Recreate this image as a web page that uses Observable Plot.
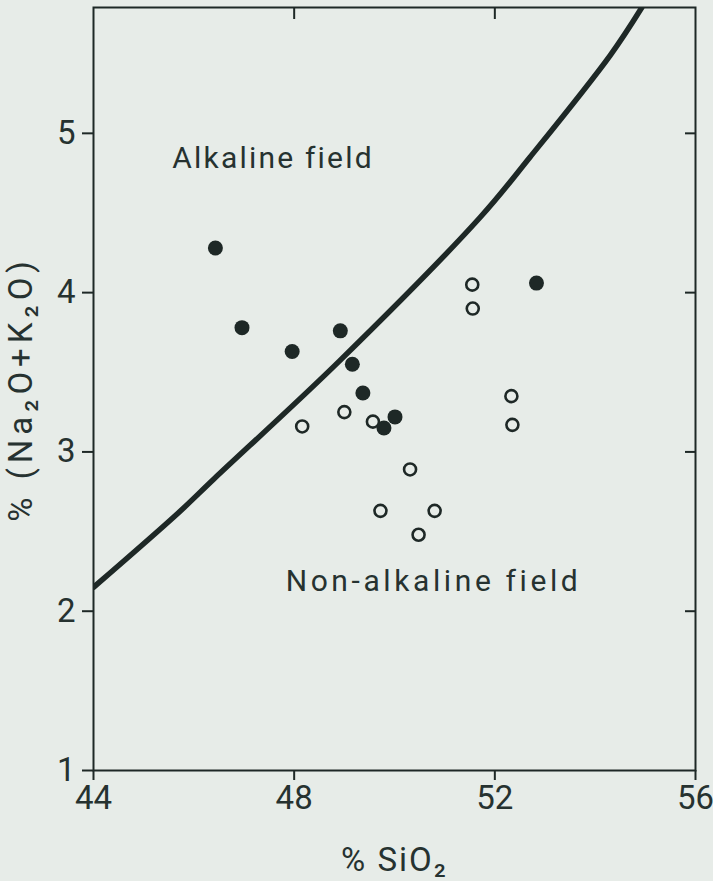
<!DOCTYPE html>
<html>
<head>
<meta charset="utf-8">
<script src="https://cdn.jsdelivr.net/npm/d3@7"></script>
<script src="https://cdn.jsdelivr.net/npm/@observablehq/plot@0.6"></script>
<style>
  html, body { margin: 0; padding: 0; background: #e7ece8; }
  #chart svg { display: block; }
</style>
</head>
<body>
<div id="chart"></div>
<script>
// Alkaline (filled) samples: SiO2 %, Na2O+K2O %
const alkSiO2 = [46.43, 46.96, 47.96, 48.92, 49.16, 49.37, 50.01, 49.79, 52.83];
const alkAlk  = [4.28, 3.78, 3.63, 3.76, 3.55, 3.37, 3.22, 3.15, 4.06];
// Non-alkaline (open) samples
const nonSiO2 = [51.55, 51.56, 48.16, 49.00, 49.57, 50.31, 49.72, 50.80, 50.48, 52.33, 52.35];
const nonAlk  = [4.05, 3.90, 3.16, 3.25, 3.19, 2.89, 2.63, 2.63, 2.48, 3.35, 3.17];
// Dividing curve
const curveSiO2 = [44.0, 45.7, 46.4, 48.9, 51.7, 52.7, 54.3, 54.93];
const curveAlk  = [2.15, 2.62, 2.83, 3.57, 4.47, 4.85, 5.49, 5.79];
// Tick labels
const xTicks = [44, 48, 52, 56];
const yTicks = [1, 2, 3, 4, 5];
// Field labels
const fieldNames = ["Alkaline field", "Non-alkaline field"];
const fieldX = [45.57, 47.83];
const fieldY = [4.84, 2.185];

const alkaline = alkSiO2.map((x, i) => ({x, y: alkAlk[i]}));
const nonAlkaline = nonSiO2.map((x, i) => ({x, y: nonAlk[i]}));
const curve = curveSiO2.map((x, i) => ({x, y: curveAlk[i]}));
const fields = fieldNames.map((t, i) => ({t, x: fieldX[i], y: fieldY[i]}));

const ink = "#1e2826";
const textInk = "#263230";

const chart = Plot.plot({
  width: 713,
  height: 881,
  marginTop: 7,
  marginRight: 18,
  marginBottom: 111,
  marginLeft: 93,
  style: {background: "#e7ece8", fontFamily: "Roboto, 'DejaVu Sans', sans-serif", fontSize: "32px", color: ink},
  x: {domain: [44, 56]},
  y: {domain: [1, 5.79]},
  marks: [
    Plot.line(curve, {x: "x", y: "y", stroke: ink, strokeWidth: 5.5, curve: "catmull-rom", clip: true}),
    Plot.dot(nonAlkaline, {x: "x", y: "y", r: 6, stroke: ink, strokeWidth: 2.6, fill: "none"}),
    Plot.dot(alkaline, {x: "x", y: "y", r: 7.5, fill: ink, stroke: "none"}),
    Plot.text(fields, {x: "x", y: "y", text: "t", textAnchor: "start", fill: textInk, fontSize: 30}),
    Plot.frame({stroke: ink, strokeWidth: 2}),
    // bottom axis
    Plot.axisX({ticks: xTicks, tickSize: 10, tickPadding: 5, stroke: ink, strokeWidth: 2, fill: textInk, fontSize: 33,
      tickFormat: d => String(d),
      label: "% SiO₂", labelAnchor: "center", labelOffset: 100, labelArrow: "none"}),
    // top inward ticks
    Plot.axisX({anchor: "top", ticks: [48, 52], tickSize: 11, dy: 11, tickFormat: () => "", label: null, stroke: ink, strokeWidth: 2}),
    // left axis
    Plot.axisY({ticks: yTicks, tickSize: 11, tickPadding: 7, stroke: ink, strokeWidth: 2, fill: textInk, fontSize: 33,
      tickFormat: d => String(d),
      label: "% (Na₂O+K₂O)", labelAnchor: "center", labelOffset: 85, labelArrow: "none"}),
    // right inward ticks
    Plot.axisY({anchor: "right", ticks: [2, 3, 4, 5], tickSize: 11, dx: -11, tickFormat: () => "", label: null, stroke: ink, strokeWidth: 2})
  ]
});

// letter spacing of the stencil-like lettering
const svg = d3.select(chart);
svg.selectAll("text").each(function() {
  const t = d3.select(this).text();
  if (t === "Alkaline field") d3.select(this).style("letter-spacing", "2.2px");
  else if (t === "Non-alkaline field") d3.select(this).style("letter-spacing", "3.6px");
  else if (t.startsWith("% (")) d3.select(this).style("letter-spacing", "5px");
  else if (t.startsWith("% S")) d3.select(this).style("letter-spacing", "2px");
});
document.getElementById("chart").appendChild(chart);
</script>
</body>
</html>
